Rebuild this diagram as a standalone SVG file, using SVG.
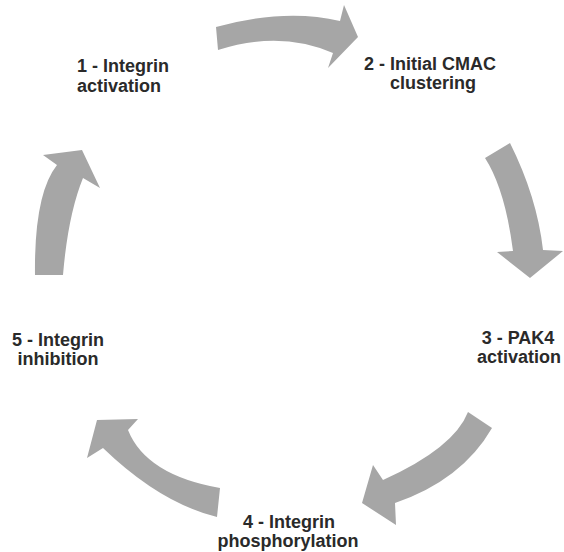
<svg xmlns="http://www.w3.org/2000/svg" width="564" height="552" viewBox="0 0 564 552">
<style>
.arrow{fill:#a6a6a6;stroke:none}
.lbl{font-family:"Liberation Sans",Arial,sans-serif;font-weight:bold;font-size:18px;fill:#2a2a2a;text-anchor:middle}
</style>
<rect width="564" height="552" fill="#ffffff"/>
<g id="connectors">
<path class="arrow" d="M216,27 Q285,8 340,21 L344,5 L358,37 L328,68 L333,53 Q280,30 218,50 Z"/>
<path class="arrow" d="M485,158 Q505,189 513,251 L497,252 L530,278 L563,251 L543,250 Q537,197 510,143 Z"/>
<path class="arrow" d="M468,412 Q454,448 383,480 L373,465 L362,503 L396,525 L395,503 Q462,480 492,428 Z"/>
<path class="arrow" d="M220,488 Q146,475 128,430 L138,419 L97,420 L87,458 L103,448 Q160,503 217,517 Z"/>
<path class="arrow" d="M35,275 Q34,194 57,165 L43,155 L82,150 L100,188 L83,178 Q68,215 63,275 Z"/>
</g>
<g id="node1"><text class="lbl"><tspan x="123" y="72">1 - Integrin</tspan><tspan x="119" y="92">activation</tspan></text></g>
<g id="node2"><text class="lbl"><tspan x="430" y="70">2 - Initial CMAC</tspan><tspan x="433" y="89">clustering</tspan></text></g>
<g id="node3"><text class="lbl"><tspan x="518" y="344">3 - PAK4</tspan><tspan x="519" y="363">activation</tspan></text></g>
<g id="node4"><text class="lbl"><tspan x="289" y="528">4 - Integrin</tspan><tspan x="288" y="547">phosphorylation</tspan></text></g>
<g id="node5"><text class="lbl"><tspan x="58" y="346">5 - Integrin</tspan><tspan x="58" y="365">inhibition</tspan></text></g>
</svg>
